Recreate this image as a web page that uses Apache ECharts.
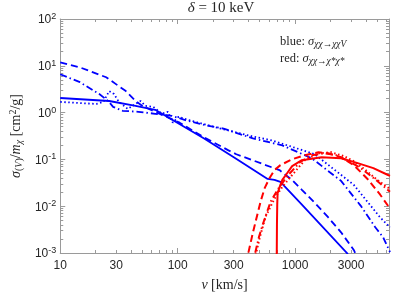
<!DOCTYPE html>
<html><head><meta charset="utf-8">
<script src="https://cdn.jsdelivr.net/npm/echarts@6/dist/echarts.min.js"></script>
<style>html,body{margin:0;padding:0;background:#fff}#c{width:396px;height:297px}</style>
</head><body><div id="c"></div>
<script>
// tick labels
const xTickLabels = [10, 30, 100, 300, 1000, 3000];
const yTickExps = [-3, -2, -1, 0, 1, 2];
const xRange = [10, 6310];
const yRange = [1e-3, 1e2];

// blue: sigma(chi chi -> chi chi V)
const blueSolidV = [10, 26.1, 43.8, 64.3, 168, 310, 584, 668, 750, 1143, 2818];
const blueSolidS = [2.05, 1.77, 1.39, 1.15, 0.280, 0.106, 0.0382, 0.0364, 0.0330, 0.0108, 0.00095];

const blueDashV = [10, 14.7, 24.6, 36.2, 43.8, 50.1, 64.3, 104, 168, 271, 316, 562, 736, 944, 1143, 1468, 1919, 2464, 3162, 3285];
const blueDashS = [11.8, 9.25, 5.69, 2.88, 1.77, 1.39, 1.04, 0.610, 0.294, 0.156, 0.129, 0.0755, 0.0592, 0.0364, 0.0224, 0.0119, 0.00574, 0.00277, 0.00116, 0.00095];

const blueDashDotV = [10, 14.7, 21.5, 25.6, 28.2, 34.1, 46.4, 64.3, 89.1, 121, 178, 246, 438, 779, 1386, 2464, 3615, 4820, 5623, 6431];
const blueDashDotS = [6.59, 4.47, 2.49, 1.77, 1.33, 1.09, 1.04, 0.944, 0.855, 0.671, 0.527, 0.455, 0.280, 0.1995, 0.106, 0.0347, 0.0103, 0.00354, 0.00218, 0.00105];

const blueDotV = [10, 20.3, 23.3, 26.1, 28.7, 31.6, 37.6, 43.8, 48.3, 53.1, 61.9, 73.6, 82.5, 90.9, 101.9, 121, 233, 438, 640, 1468, 3162, 5309, 6431];
const blueDotS = [1.69, 1.53, 1.69, 2.88, 2.49, 1.69, 1.20, 1.53, 1.77, 1.39, 1.33, 0.944, 1.04, 0.610, 0.815, 0.705, 0.455, 0.308, 0.254, 0.129, 0.0286, 0.00574, 0.00354];

// red: sigma(chi chi -> chi* chi*)
const redSolidV = [694, 697, 701, 705, 710, 750, 779, 858, 944, 1143, 1679, 2464, 3415, 4642, 6190, 6431];
const redSolidS = [0.0001, 0.0005, 0.004, 0.011, 0.019, 0.0286, 0.0364, 0.0512, 0.0719, 0.0962, 0.111, 0.106, 0.0832, 0.0652, 0.0464, 0.0443];

const redDashV = [383, 398, 438, 482, 511, 552, 607, 668, 750, 944, 1211, 1585, 1919, 2464, 3162, 4140, 5309, 6431];
const redDashS = [0.0006, 0.00095, 0.00277, 0.00733, 0.0131, 0.0247, 0.0401, 0.0592, 0.0755, 0.101, 0.123, 0.142, 0.135, 0.111, 0.0755, 0.0382, 0.0176, 0.0089];

const redDotV = [455, 464, 501, 562, 668, 779, 944, 1211, 1585, 2033, 2610, 3162, 3981, 5012, 6431];
const redDotS = [0.0005, 0.00095, 0.00218, 0.00604, 0.0145, 0.0259, 0.0464, 0.0962, 0.135, 0.142, 0.117, 0.0916, 0.0592, 0.0364, 0.0235];

const redDashDotV = [447, 455, 492, 531, 619, 736, 891, 1101, 1386, 1778, 2239, 2868, 3615, 5012, 6431];
const redDashDotS = [0.0005, 0.00095, 0.00218, 0.00409, 0.0125, 0.0259, 0.0488, 0.0873, 0.123, 0.135, 0.123, 0.0916, 0.0652, 0.0347, 0.0203];

const L = Math.log10;
function pts(v, s) { return v.map((x, i) => [L(x), L(s[i])]); }

const xMajor = [1, 2, 3];
const xMinor = [];
for (let n = 1; n <= 3; n++) for (let k = 2; k <= 9; k++) { const v = k * Math.pow(10, n); if (v <= xRange[1]) xMinor.push(L(v)); }
const yMajor = yTickExps.slice();
const yMinor = [];
for (let n = -3; n < 2; n++) for (let k = 2; k <= 9; k++) yMinor.push(L(k * Math.pow(10, n)));

const axisCol = '#9a9a9a';
const txtCol = '#262626';
const serif = 'Liberation Serif';
const sans = 'Liberation Sans';

function xAx(pos, vals, len, line, labels) {
  const a = {
    type: 'value', min: L(xRange[0]), max: L(xRange[1]), position: pos, gridIndex: 0,
    axisLine: { show: line, onZero: false, lineStyle: { color: axisCol, width: 1 } },
    axisTick: { show: true, inside: true, length: len, customValues: vals, lineStyle: { color: axisCol } },
    axisLabel: { show: false },
    splitLine: { show: false }
  };
  if (labels) {
    a.axisLabel = { show: true, customValues: xTickLabels.map(L), formatter: v => String(Math.round(Math.pow(10, v))),
      color: txtCol, fontSize: 12, fontFamily: sans, margin: 7 };
    a.name = '{i|v} {n|[km/s]}';
    a.nameLocation = 'middle';
    a.nameGap = 25;
    a.nameTextStyle = { rich: { i: { fontFamily: serif, fontStyle: 'italic', fontSize: 14, color: txtCol }, n: { fontFamily: serif, fontSize: 14, color: txtCol } } };
  }
  return a;
}
function yAx(pos, vals, len, line, labels) {
  const a = {
    type: 'value', min: L(yRange[0]), max: L(yRange[1]), position: pos, gridIndex: 0,
    axisLine: { show: line, onZero: false, lineStyle: { color: axisCol, width: 1 } },
    axisTick: { show: true, inside: true, length: len, customValues: vals, lineStyle: { color: axisCol } },
    axisLabel: { show: false },
    splitLine: { show: false }
  };
  if (labels) {
    a.axisLabel = { show: true, customValues: yTickExps, formatter: v => '{b|10}{s|' + Math.round(v) + '}',
      margin: 4, rich: { b: { fontSize: 12, fontFamily: sans, color: txtCol, verticalAlign: 'bottom', lineHeight: 14 },
        s: { fontSize: 9, fontFamily: sans, color: txtCol, verticalAlign: 'top', lineHeight: 14, padding: [0, 0, 8, 0] } } };
    a.name = '{i|σ}{sub|(}{subi|V}{sub|)}{n|/}{i|m}{subi|χ}{n| [cm}{sup|2}{n|/g]}';
    a.nameLocation = 'middle';
    a.nameRotate = 90;
    a.nameGap = 36;
    a.nameTextStyle = { rich: {
      i: { fontFamily: serif, fontStyle: 'italic', fontSize: 14, color: txtCol },
      n: { fontFamily: serif, fontSize: 14, color: txtCol },
      sub: { fontFamily: serif, fontSize: 10, color: txtCol, padding: [6, 0, 0, 0] },
      subi: { fontFamily: serif, fontStyle: 'italic', fontSize: 10, color: txtCol, padding: [6, 0, 0, 0] },
      sup: { fontFamily: serif, fontSize: 10, color: txtCol, padding: [0, 0, 6, 0] }
    } };
  }
  return a;
}

const BLUE = '#0000ff', RED = '#ff0000';
const styles = {
  solid: 'solid',
  dash: [7, 4],
  dot: [1.5, 2.5],
  dashdot: [7, 3, 1.5, 3]
};
function ser(name, v, s, color, type, w) {
  return { name: name, type: 'line', xAxisIndex: 0, yAxisIndex: 0, data: pts(v, s), symbol: 'none', smooth: false,
    clip: true, lineStyle: { color: color, width: w || 1.8, type: styles[type], cap: 'butt' } };
}

const chart = echarts.init(document.getElementById('c'), null, { renderer: 'canvas' });
chart.setOption({
  animation: false,
  backgroundColor: '#fff',
  grid: { left: 53, right: 7, top: 19, bottom: 41, containLabel: false },
  xAxis: [ xAx('bottom', xMajor, 5, true, true), xAx('bottom', xMinor, 3, false, false),
           xAx('top', xMajor, 5, true, false), xAx('top', xMinor, 3, false, false) ],
  yAxis: [ yAx('left', yMajor, 5, true, true), yAx('left', yMinor, 3, false, false),
           yAx('right', yMajor, 5, true, false), yAx('right', yMinor, 3, false, false) ],
  series: [
    ser('blueSolid', blueSolidV, blueSolidS, BLUE, 'solid'),
    ser('blueDash', blueDashV, blueDashS, BLUE, 'dash'),
    ser('blueDashDot', blueDashDotV, blueDashDotS, BLUE, 'dashdot'),
    ser('blueDot', blueDotV, blueDotS, BLUE, 'dot'),
    ser('redSolid', redSolidV, redSolidS, RED, 'solid', 2),
    ser('redDash', redDashV, redDashS, RED, 'dash', 2),
    ser('redDot', redDotV, redDotS, RED, 'dot', 2),
    ser('redDashDot', redDashDotV, redDashDotS, RED, 'dashdot', 2)
  ],
  graphic: [
    { type: 'text', x: 221, y: 1, style: { text: '{i|δ}{n| = 10 keV}', align: 'center',
      rich: { i: { fontFamily: serif, fontStyle: 'italic', fontSize: 15, fill: txtCol }, n: { fontFamily: serif, fontSize: 15, fill: txtCol } } } },
    { type: 'text', x: 280, y: 34, style: { text: '{n|blue: }{i|σ}{s|χχ→χχV}',
      rich: { n: { fontFamily: serif, fontSize: 12.5, fill: txtCol }, i: { fontFamily: serif, fontStyle: 'italic', fontSize: 12.5, fill: txtCol },
        s: { fontFamily: serif, fontStyle: 'italic', fontSize: 9.5, fill: txtCol, padding: [5, 0, 0, 0] } } } },
    { type: 'text', x: 280, y: 51, style: { text: '{n|red: }{i|σ}{s|χχ→χ*χ*}',
      rich: { n: { fontFamily: serif, fontSize: 12.5, fill: txtCol }, i: { fontFamily: serif, fontStyle: 'italic', fontSize: 12.5, fill: txtCol },
        s: { fontFamily: serif, fontStyle: 'italic', fontSize: 9.5, fill: txtCol, padding: [5, 0, 0, 0] } } } }
  ]
});
</script></body></html>
